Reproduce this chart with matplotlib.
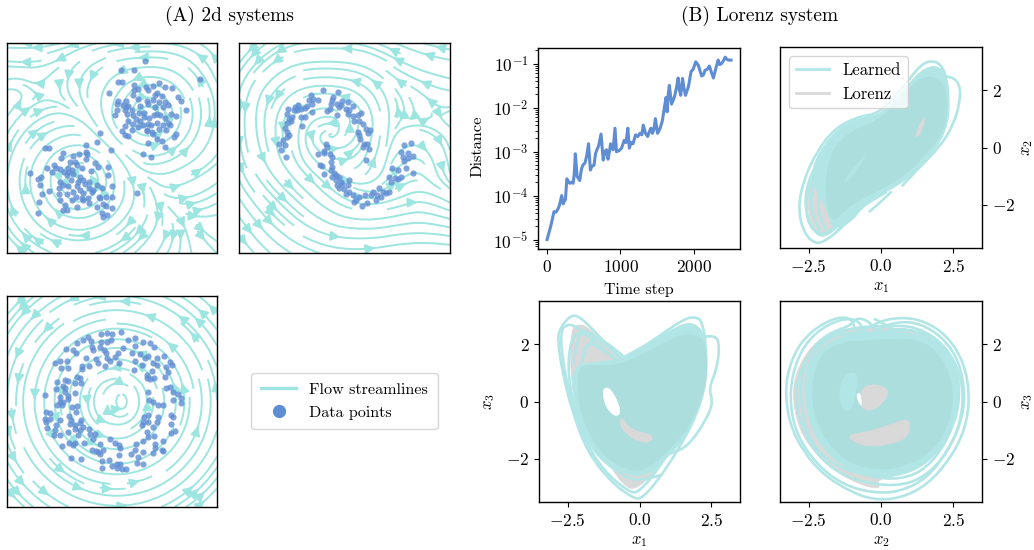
import numpy as np
import matplotlib
matplotlib.use("Agg")
import matplotlib.pyplot as plt
from matplotlib.lines import Line2D
from matplotlib.path import Path
from matplotlib.patches import PathPatch

plt.rcParams["font.family"] = ["cmr10", "DejaVu Serif"]
plt.rcParams["mathtext.fontset"] = "cm"
plt.rcParams["axes.formatter.use_mathtext"] = True
plt.rcParams["axes.unicode_minus"] = False
plt.rcParams["axes.linewidth"] = 1.0
plt.rcParams["font.size"] = 12

W, H = 1034, 550
STREAM = "#9de5e0"
BLUE = "#5f8dd3"
LEARNED = "#b2e6e6"
CORE = "#acdede"
GRAY = "#d9d9d9"

# flow direction on screen in degrees, read on an 11x11 grid, top row first
flow_two = [
    [180, 180, 190, 195, 195, 190, 185, 180, 170, 155, 135],
    [175, 180, 200, 225, 215, 200, 185, 180, 160, 135, 115],
    [200, 150, 240, 275, 250, 233, 210, 172, 139, 122, 113],
    [50, 35, 15, 320, 290, 258, 246, 152, 107, 99, 95],
    [60, 45, 25, 5, 310, 300, 308, 17, 62, 74, 79],
    [70, 56, 41, 14, 339, 313, 334, 7, 36, 53, 63],
    [80, 76, 67, 34, 315, 291, 305, 4, 24, 30, 40],
    [97, 100, 106, 134, 237, 256, 275, 300, 15, 25, 35],
    [112, 120, 135, 164, 203, 229, 241, 265, 320, 10, 25],
    [125, 135, 150, 170, 194, 214, 227, 240, 270, 300, 340],
    [135, 145, 158, 173, 190, 205, 217, 230, 245, 290, 315],
]
flow_moon = [
    [230, 220, 205, 190, 180, 180, 165, 155, 160, 165, 170],
    [235, 225, 210, 190, 180, 175, 160, 150, 155, 165, 170],
    [250, 235, 220, 195, 180, 170, 145, 125, 150, 160, 165],
    [265, 260, 240, 215, 180, 150, 120, 100, 100, 130, 190],
    [270, 275, 265, 255, 200, 70, 85, 90, 10, 340, 320],
    [280, 285, 280, 280, 330, 20, 70, 80, 20, 310, 285],
    [290, 300, 305, 310, 320, 350, 60, 70, 30, 285, 280],
    [300, 310, 315, 315, 315, 325, 350, 25, 25, 340, 325],
    [305, 310, 315, 320, 325, 340, 0, 10, 15, 345, 340],
    [305, 310, 320, 330, 340, 355, 0, 10, 5, 355, 350],
    [310, 315, 325, 335, 345, 355, 5, 10, 5, 0, 355],
]
flow_ring = [
    [226, 220, 213, 204, 194, 183, 171, 161, 151, 143, 136],
    [232, 226, 219, 209, 197, 183, 169, 156, 145, 137, 130],
    [240, 235, 227, 217, 202, 184, 166, 150, 137, 129, 122],
    [249, 245, 238, 228, 211, 186, 159, 139, 126, 118, 113],
    [259, 257, 253, 246, 230, 192, 143, 120, 110, 105, 102],
    [270, 270, 270, 270, 270, 270, 90, 90, 90, 90, 90],
    [281, 283, 287, 294, 309, 348, 38, 61, 70, 75, 78],
    [291, 295, 302, 312, 329, 354, 21, 41, 54, 62, 67],
    [300, 305, 313, 323, 338, 356, 14, 30, 43, 51, 58],
    [308, 314, 321, 331, 343, 357, 11, 24, 35, 43, 50],
    [314, 320, 327, 336, 346, 357, 9, 19, 29, 37, 44],
]

# data points, in picture units of each square panel
points_two = [(436,75),(362,102),(403,102),(600,130),(355,140),(365,140),(401,148),(327,172),(415,160),(437,155),(445,165),(458,152),(478,142),(497,155),(518,158),(403,165),(400,180),(465,180),(470,172),(487,182),(535,185),(545,198),(415,190),(440,198),(460,195),(477,200),(497,200),(505,210),(355,197),(378,198),(370,208),(385,212),(350,225),(345,240),(375,225),(382,235),(420,212),(445,205),(418,232),(433,232),(465,215),(490,215),(515,235),(528,242),(560,225),(400,240),(408,250),(420,258),(432,245),(447,248),(463,240),(480,240),(495,248),(505,262),(385,258),(375,272),(400,265),(430,270),(445,265),(470,262),(490,268),(510,270),(415,275),(440,285),(455,290),(478,280),(500,285),(528,295),(522,305),(365,288),(395,285),(440,288),(458,295),(375,298),(385,303),(470,312),(487,318),(445,323),(495,335),(428,356),(452,367),(350,205),(395,225),(378,215),(470,235),(452,270),
              (300,294),(292,320),(333,345),
              (257,328),(135,337),(146,340),(190,353),(218,362),(237,357),(257,352),(262,358),(182,370),(258,372),(210,382),(225,380),(232,390),(285,384),(160,390),(140,398),(168,398),(178,403),(205,398),(295,395),(325,395),(88,413),(155,410),(192,412),(215,405),(245,400),(272,407),(325,420),(122,427),(113,433),(200,420),(220,418),(240,425),(178,440),(212,435),(235,440),(250,435),(268,440),(125,477),(118,450),(190,450),(205,452),(232,452),(255,448),(175,458),(145,467),(220,470),(240,465),(268,460),(290,450),(335,452),(410,474),(175,478),(200,478),(228,485),(250,475),(275,470),(305,458),(297,487),(318,485),(335,485),(115,500),(180,495),(215,495),(245,490),(265,490),(280,465),(300,490),(195,510),(190,525),(200,525),(232,517),(268,505),(290,515),(310,508),(318,512),(337,520),(112,535),(305,535),(320,540),(310,545),(248,495),(205,410)]
points_moon = [(272,165),(316,170),(235,180),(242,190),(302,185),(300,195),(230,195),(258,195),(168,222),(187,215),(197,210),(205,220),(225,212),(238,205),(218,218),(195,225),(185,225),(240,230),(165,235),(178,245),(170,250),(165,262),(175,258),(205,245),(217,245),(208,272),(157,278),(163,290),(170,300),(165,305),(153,315),(140,325),(157,330),(147,345),(160,367),
               (295,205),(292,220),(285,228),(315,205),(325,210),(330,198),(345,200),(320,215),(340,220),(350,225),(362,212),(345,235),(360,242),(375,238),(385,232),(315,240),(365,258),(380,258),(390,265),(400,280),(412,283),(405,293),(375,290),(380,300),(383,310),
               (280,325),(285,335),(275,348),(257,358),(275,355),(293,358),(298,365),(262,390),(268,393),(275,418),(295,380),(300,395),(295,405),(305,415),(312,420),(320,425),(300,425),(310,435),(325,440),(350,435),(315,450),(330,448),(345,450),(320,460),(335,462),(350,470),(340,478),(360,480),(378,485),(370,495),(365,500),(388,513),(403,505),(398,480),(420,470),(440,458),(432,480),(430,495),(415,480),(450,470),(460,475),(470,470),(445,485),(475,440),(487,430),(470,425),(495,432),(505,425),(478,400),(495,405),(520,400),(540,413),
               (395,325),(403,325),(392,335),(410,343),(400,375),(515,330),(535,322),(505,350),(525,355),(540,362),(510,365),(525,370),(515,378)]
points_ring = [(363,127),(303,132),(320,128),(335,133),(265,142),(250,150),(230,158),(272,152),(303,155),(320,155),(333,150),(383,151),(405,143),(428,157),(450,160),(462,172),(405,168),(370,175),(275,172),(280,180),(300,172),(312,180),(318,188),(198,178),(220,180),(228,188),(355,188),(345,200),(395,190),(420,192),(445,197),(470,203),(492,197),(258,203),(165,218),(178,213),(200,212),(288,208),(293,220),(322,205),(330,212),(405,212),(435,205),(460,218),(510,215),(500,230),(518,225),(183,233),(203,235),(245,228),(268,228),(315,228),(358,218),(402,240),(425,225),(470,225),(245,238),(455,243),(440,255),(505,245),(195,270),(230,262),(240,265),(440,265),(450,268),(462,265),(497,260),(170,277),(205,272),(225,280),(242,280),(190,288),(168,298),(195,295),(225,308),(445,305),(500,295),(510,290),(135,315),(195,305),(205,318),(178,320),(178,335),(188,335),(205,328),(170,345),(185,343),(520,305),(535,313),(545,325),(545,338),(520,330),(448,330),(458,335),(475,345),(490,343),(215,350),(230,348),
               (137,365),(148,367),(135,385),(150,385),(137,395),(140,412),(168,405),(180,388),(207,378),(212,390),(228,365),(243,390),(210,400),(225,405),(240,398),(165,420),(162,435),(180,435),(205,425),(225,415),(240,420),(250,410),(268,415),(235,433),(270,432),(285,432),(445,375),(432,380),(475,380),(515,375),(520,380),(430,395),(445,395),(470,395),(515,400),(425,403),(440,425),(460,410),(513,428),(525,423),(443,440),(463,437),(490,452),(330,445),(278,447),(252,458),(208,458),(218,463),(225,457),(185,468),(300,460),(345,458),(358,463),(360,472),(407,460),(428,453),(465,460),(465,472),(275,480),(288,482),(295,485),(310,478),(405,478),(485,478),(488,483),(458,488),(428,485),(393,490),(300,492),(358,495),(212,503),(242,505),(305,512),(327,510),(413,500),(412,517),(430,522),(350,520),(360,520),(335,527),(305,533),(352,533),(378,535),(365,535)]

steps = [0,50,95,120,140,160,175,200,220,235,250,270,290,310,335,355,370,385,410,430,445,470,490,515,540,565,590,610,640,660,680,705,735,765,785,810,830,850,865,885,900,925,945,980,1015,1035,1050,1075,1100,1120,1145,1170,1205,1235,1265,1290,1310,1340,1370,1395,1415,1435,1455,1475,1505,1525,1540,1570,1595,1620,1635,1650,1665,1695,1720,1740,1765,1785,1800,1820,1845,1865,1885,1925,1960,1990,2025,2060,2105,2130,2150,2180,2210,2240,2265,2300,2330,2350,2375,2400,2425,2450,2470,2505]
distance = [1.0e-5,2.0e-5,4.3e-5,4.2e-5,4.7e-5,5.4e-5,6.6e-5,1e-4,6.5e-5,7.5e-5,8e-5,2.4e-4,2.1e-4,1.9e-4,2.0e-4,1.9e-4,3e-4,8.9e-4,2.7e-4,2.4e-4,2.2e-4,4.1e-4,5e-4,5.4e-4,8e-4,1.5e-3,3.8e-4,4.6e-4,4.9e-4,9e-4,1.1e-3,1.4e-3,2.5e-3,6.4e-4,1.0e-3,1.1e-3,6.7e-4,1.0e-3,1.5e-3,1.2e-3,1.1e-3,3.4e-3,9.9e-4,1.05e-3,1.2e-3,1.5e-3,1.8e-3,1.6e-3,3.4e-3,1.2e-3,1.6e-3,1.5e-3,2.4e-3,2.2e-3,2.6e-3,2.4e-3,4.0e-3,2.6e-3,2.2e-3,2.9e-3,3.4e-3,2.6e-3,3.2e-3,5.6e-3,2.6e-3,3.0e-3,3.4e-3,5.0e-3,9.5e-3,1.7e-2,8e-3,2.0e-2,3.2e-2,1.2e-2,1.5e-2,1.9e-2,3.0e-2,4.7e-2,2.6e-2,1.9e-2,4.6e-2,2.7e-2,1.9e-2,3.0e-2,6.5e-2,7.5e-2,1.1e-1,9.1e-2,5.2e-2,5.6e-2,7e-2,7.4e-2,8.8e-2,6.2e-2,4.7e-2,8.0e-2,1.2e-1,9.5e-2,1e-1,1.15e-1,1.4e-1,1.25e-1,1.2e-1,1.2e-1]

# x1-x2 view
gray12 = [(-2.06,-3.09),(-2.52,-2.57),(-2.52,-1.41),(-1.94,-0.02),(-1.02,0.84),(-0.09,1.08),(0.83,1.94),(1.64,2.70),(2.11,2.52),(2.11,1.13),(1.30,-0.14),(0.25,-1.06),(-0.90,-1.99),(-1.60,-2.80)]
mid12 = [(-1.77,-2.22),(-2.12,-1.53),(-2.35,-0.95),(-2.06,-0.14),(-1.37,0.67),(-0.67,0.96),(0.08,1.08),(0.95,2.06),(1.53,2.70),(2.11,2.75),(2.28,1.83),(2.22,0.56),(1.41,-0.54),(0.60,-1.24),(-0.44,-1.76),(-1.13,-2.34),(-1.60,-2.80)]
core12 = [(-1.83,-2.11),(-1.89,-1.18),(-1.69,-0.14),(-1.02,0.56),(-0.09,0.88),(0.72,1.71),(1.41,2.47),(2.11,2.35),(2.28,1.60),(2.16,0.56),(1.30,-0.49),(0.37,-1.24),(-0.50,-1.64),(-1.25,-2.11),(-1.66,-2.57)]
light12 = [(-1.37,-1.30),(-0.68,-0.37),(-0.50,-0.25),(-1.02,-1.07)]
sliver12 = [(1.18,0.44),(1.53,1.19),(1.47,0.67),(1.24,0.32)]
loops12 = [
    [(-2.29,-3.38),(-2.70,-2.92),(-2.87,-2.11),(-2.70,-1.18),(-2.23,-0.14),(-1.60,0.67),(-0.79,1.08),(-0.03,1.19),(0.83,2.18),(1.41,2.93),(1.88,3.04),(2.22,2.70),(2.36,1.71),(2.28,0.67),(1.53,-0.43),(0.72,-1.18),(-0.32,-1.76),(-1.13,-2.57),(-1.83,-3.21)],
    [(-2.23,-3.03),(-2.58,-2.45),(-2.64,-1.53),(-2.23,-0.49),(-1.48,0.50),(-0.67,0.96),(0.14,1.13),(1.06,2.29),(1.53,2.75),(1.99,2.81),(2.19,2.41),(2.28,1.13),(1.99,0.21),(1.18,-0.72),(0.14,-1.41),(-0.79,-1.99),(-1.48,-2.74),(-1.94,-3.09)],
    [(-2.41,-2.92),(-2.64,-2.11),(-2.41,-1.06),(-1.83,-0.02),(-0.90,0.73),(0.02,1.02),(0.95,2.00),(1.64,2.64),(2.05,2.58),(2.22,1.60),(1.88,0.21),(0.83,-0.95),(-0.44,-1.64),(-1.25,-2.34),(-1.83,-3.03)],
    [(2.11,2.47),(2.45,2.49),(2.74,2.18),(2.74,1.60),(2.51,0.79),(2.05,0.03),(1.30,-0.72),(0.72,-1.35)],
    [(-0.42,-2.25),(0.02,-1.88),(0.37,-1.53)],
    [(-1.37,-2.74),(-0.90,-2.45),(-0.73,-2.05),(-0.21,-1.76)],
    [(-2.12,-2.9),(-2.42,-2.35),(-2.42,-1.5),(-2.1,-0.5),(-1.35,0.6)],
    [(-1.9,-2.85),(-2.2,-2.35),(-2.15,-1.55),(-1.8,-0.6)],
    [(-1.55,-2.95),(-1.25,-2.55),(-0.7,-2.05),(0.2,-1.55)],
]

# x1-x3 view
gray13 = [(-2.40,2.53),(-2.11,2.71),(-1.70,2.53),(-1.12,1.84),(-0.31,1.15),(0.61,1.72),(1.89,2.53),(2.23,1.38),(2.00,-0.01),(0.84,-2.09),(-0.08,-3.08),(-0.54,-2.96),(-1.12,-2.09),(-1.93,-1.05),(-2.40,0.57)]
mid13 = [(-2.28,0.45),(-2.22,1.15),(-1.70,1.27),(-0.66,1.38),(-0.20,1.55),(0.73,2.13),(1.66,2.59),(2.12,2.54),(2.29,1.61),(2.23,0.34),(1.66,-1.06),(0.84,-1.98),(0.21,-2.50),(-0.37,-2.50),(-1.24,-1.98),(-1.88,-1.05)]
core13 = [(-2.11,0.57),(-2.05,1.26),(-1.47,1.20),(-0.66,1.26),(-0.20,1.44),(0.61,1.84),(1.54,2.36),(2.23,2.19),(2.35,1.38),(2.23,0.34),(1.66,-0.94),(0.96,-1.69),(0.27,-2.33),(-0.31,-2.38),(-1.12,-1.98),(-1.70,-1.17),(-2.05,-0.24)]
crescent13 = [(-0.66,-0.47),(-0.31,-1.00),(0.50,-1.17),(0.38,-1.46),(-0.20,-1.34),(-0.66,-0.94)]
hole13 = [(-1.30,0.48),(-0.98,0.46),(-0.62,-0.36),(-0.85,-0.55),(-1.2,-0.15)]
loops13 = [
    [(0.03,0.80),(-0.43,1.32),(-1.12,1.96),(-1.70,2.59),(-2.11,2.97),(-2.40,3.00),(-2.75,2.59),(-2.86,2.19),(-2.69,1.03),(-2.34,-0.36),(-1.82,-1.75),(-1.01,-2.79),(-0.20,-3.39),(0.09,-3.37),(0.61,-2.79),(1.31,-1.75),(2.00,-0.47),(2.29,0.80),(2.33,1.96),(2.18,2.77),(2.00,2.94),(1.60,2.91),(0.73,2.31),(-0.31,1.61),(-0.78,1.15)],
    [(-0.20,0.91),(-1.01,1.61),(-1.70,2.19),(-2.28,2.67),(-2.57,2.67),(-2.75,2.42),(-2.69,1.49),(-2.40,0.10),(-1.94,-1.28),(-1.24,-2.44),(-0.31,-3.19),(-0.02,-3.14),(0.50,-2.56),(1.19,-1.52),(1.89,-0.36),(2.18,0.80),(2.12,2.42),(1.89,2.71),(1.42,2.65),(0.50,2.07),(-0.43,1.49)],
    [(2.23,2.25),(2.64,2.33),(2.79,1.96),(2.70,1.15),(2.41,0.45),(2.56,-0.01),(2.35,-0.59),(1.77,-1.46),(1.31,-1.75),(0.84,-1.86),(0.27,-2.79)],
    [(-0.54,1.38),(-1.01,1.84),(-1.47,2.25),(-2.05,2.42),(-2.40,2.19),(-2.51,0.91),(-2.16,-0.59),(-1.59,-1.75),(-0.89,-2.38),(-0.08,-2.85),(0.73,-2.56)],
    [(-2.11,1.03),(-1.82,2.19),(-1.24,2.19),(-0.54,1.55)],
    [(-1.93,-0.94),(-1.36,-1.86),(-0.54,-2.44),(0.27,-2.56),(1.08,-1.75)],
    [(-0.54,1.55),(0.61,2.19),(1.66,2.59),(2.12,2.59),(2.06,1.38)],
    [(-2.3,1.3),(-2.15,2.35),(-1.85,2.55),(-1.2,1.95)],
    [(-2.45,0.5),(-2.2,-0.8),(-1.6,-2.0)],
    [(-2.0,1.3),(-1.95,2.0),(-1.5,2.0),(-0.8,1.45)],
]

# x2-x3 view
gray23 = [(-1.18,2.59),(-2.22,2.19),(-2.92,1.15),(-3.09,0.10),(-2.74,-1.28),(-1.76,-2.33),(-0.72,-2.91),(0.03,-3.06),(-0.20,-2.73),(0.90,-2.44),(2.06,-1.63),(2.58,-0.24),(2.41,1.26),(1.60,2.42),(0.44,2.59)]
mid23 = [(-1.18,2.25),(-2.11,1.79),(-2.51,0.80),(-2.51,-0.36),(-2.11,-1.40),(-1.30,-2.21),(-0.25,-2.61),(1.02,-2.44),(1.94,-1.75),(2.52,-0.59),(2.64,0.68),(2.12,1.84),(1.25,2.30),(0.21,2.30),(-0.60,2.30)]
core23 = [(-1.18,2.07),(-1.99,1.72),(-2.34,0.80),(-2.34,-0.24),(-1.99,-1.17),(-1.30,-1.98),(-0.25,-2.38),(0.90,-2.21),(1.83,-1.63),(2.41,-0.59),(2.47,0.68),(1.94,1.72),(1.25,2.13),(0.21,2.13),(-0.60,2.07)]
crescent23 = [(-1.18,-1.17),(-0.37,-1.05),(0.56,-0.71),(1.02,-0.59),(0.96,-1.28),(0.21,-1.52),(-0.49,-1.57),(-0.95,-1.40)]
patch23 = [(-0.72,0.45),(-0.25,0.63),(0.38,0.39),(-0.14,-0.30),(-0.72,-0.30)]
hole23 = [(-0.86,0.22),(-0.72,0.34),(-0.66,-0.19),(-0.78,-0.01)]
light23 = [(-1.47,0.34),(-1.24,0.97),(-0.78,1.03),(-0.89,0.22),(-1.06,-0.42),(-1.35,-0.24)]
loops23 = [
    [(-1.06,3.02),(-1.99,2.77),(-2.80,2.07),(-3.21,1.15),(-3.32,0.22),(-3.15,-0.82),(-2.69,-1.75),(-1.99,-2.56),(-1.06,-3.14),(-0.25,-3.43),(0.67,-3.37),(1.60,-2.91),(2.41,-1.98),(2.93,-0.94),(3.08,0.22),(2.87,1.38),(2.29,2.30),(1.48,2.82),(0.67,2.94),(-0.14,2.77),(-0.83,2.30)],
    [(-0.83,2.97),(-1.88,2.71),(-2.69,1.96),(-3.09,0.91),(-3.15,-0.13),(-2.92,-1.17),(-2.22,-2.21),(-1.30,-2.91),(-0.25,-3.19),(0.67,-3.14),(1.60,-2.67),(2.29,-1.75),(2.75,-0.82),(2.93,0.22),(2.70,1.44),(2.12,2.25),(1.37,2.71),(0.67,2.79),(-0.02,2.59),(-0.49,2.19)],
    [(-0.83,2.94),(-0.37,2.77),(-0.14,2.36),(0.44,2.53),(1.25,2.48),(2.06,1.96),(2.58,1.03),(2.64,-0.24),(2.18,-1.40),(1.37,-2.21),(0.44,-2.56),(-0.72,-2.56),(-1.76,-2.15),(-2.45,-1.40),(-2.74,-0.36),(-2.80,0.68),(-2.51,1.67),(-1.88,2.36),(-1.06,2.63)],
    [(-1.18,2.42),(-1.99,2.13),(-2.57,1.26),(-2.63,-0.01),(-2.28,-1.17),(-1.53,-2.09),(-0.49,-2.61),(0.67,-2.73),(1.60,-2.33),(2.35,-1.28),(2.75,-0.01),(2.64,1.15),(1.94,2.19),(1.02,2.53),(0.21,2.36)],
    [(-0.25,2.88),(0.32,2.65),(0.73,2.19)],
    [(-1.3,2.55),(-2.3,1.95),(-2.9,0.9),(-2.95,-0.3),(-2.45,-1.55),(-1.6,-2.45),(-0.5,-2.85),(0.75,-2.95),(1.7,-2.5),(2.45,-1.55),(2.85,-0.35),(2.8,0.9),(2.2,2.0),(1.25,2.6),(0.3,2.65)],
]

ticks_b = [-2.5, 0.0, 2.5]
ticklabels_x = ["$-2.5$", "$0.0$", "$2.5$"]
ticks_y = [-2, 0, 2]
ticklabels_y = ["$-2$", "$0$", "$2$"]


def make_axes(fig, left, top, right, bottom):
    return fig.add_axes([left / W, 1 - bottom / H, (right - left) / W, (bottom - top) / H])


def flow_panel(ax, angles, points, ylim):
    angles = np.radians(np.array(angles, dtype=float))
    gx = np.linspace(20, 652, 11)
    gy = np.linspace(ylim[1], ylim[0], 11)
    # the y axis runs downward so the screen angle flips sign
    ax.streamplot(gx, gy, np.cos(angles), -np.sin(angles), density=0.8, color=STREAM,
                  linewidth=1.4, arrowsize=1.4, arrowstyle="-|>")
    pts = np.array(points)
    ax.scatter(pts[:, 0], pts[:, 1], s=20, color=BLUE, alpha=0.8, linewidths=0, zorder=5)
    ax.set_xlim(20, 652)
    ax.set_ylim(*ylim)
    ax.set_xticks([])
    ax.set_yticks([])


def curve_path(points, closed):
    # quadratic curve that uses the read points as control points
    p = np.array(points, dtype=float)
    verts, codes = [], []
    if closed:
        verts.append((p[-1] + p[0]) / 2)
        codes.append(Path.MOVETO)
        for i in range(len(p)):
            verts += [p[i], (p[i] + p[(i + 1) % len(p)]) / 2]
            codes += [Path.CURVE3, Path.CURVE3]
    else:
        verts.append(p[0])
        codes.append(Path.MOVETO)
        for i in range(1, len(p) - 1):
            end = p[i + 1] if i == len(p) - 2 else (p[i] + p[i + 1]) / 2
            verts += [p[i], end]
            codes += [Path.CURVE3, Path.CURVE3]
    return Path(verts, codes)


def blob(ax, outline, color, z, edge=0.5):
    ax.add_patch(PathPatch(curve_path(outline, True), fc=color, ec=color, lw=edge, zorder=z))


def lorenz_panel(ax, gray, mid, core, loops, xlabel, ylabel, right=False):
    blob(ax, gray, GRAY, 1)
    for loop in loops:
        closed = len(loop) > 12
        ax.add_patch(PathPatch(curve_path(loop, closed), fc="none", ec=LEARNED, lw=1.9, zorder=2))
    blob(ax, mid, LEARNED, 3, edge=4)
    blob(ax, core, CORE, 3.5, edge=2)
    ax.set_xlim(-3.5, 3.5)
    ax.set_ylim(-3.5, 3.5)
    ax.set_xticks(ticks_b)
    ax.set_xticklabels(ticklabels_x, fontsize=12.5)
    ax.set_yticks(ticks_y)
    ax.set_yticklabels(ticklabels_y, fontsize=12.5)
    ax.set_xlabel(xlabel, fontsize=12)
    ax.xaxis.set_label_coords(0.5, -0.16)
    if right:
        ax.yaxis.tick_right()
        ax.yaxis.set_label_position("right")
        ax.set_ylabel(ylabel, fontsize=12)
        ax.yaxis.set_label_coords(1.185, 0.5)
    else:
        ax.set_ylabel(ylabel, fontsize=12)
        ax.yaxis.set_label_coords(-0.21, 0.5)


fig = plt.figure(figsize=(W / 100, H / 100), dpi=100)

ax1 = make_axes(fig, 7, 43, 217, 253)
flow_panel(ax1, flow_two, points_two, (655, 22))
ax2 = make_axes(fig, 239, 43, 450, 253)
flow_panel(ax2, flow_moon, points_moon, (655, 22))
ax3 = make_axes(fig, 7, 296, 217, 507)
flow_panel(ax3, flow_ring, points_ring, (650, 18))

handles = [Line2D([], [], color=STREAM, lw=2.4),
           Line2D([], [], color=BLUE, marker="o", ms=8.5, lw=0)]
fig.legend(handles, ["Flow streamlines", "Data points"], loc="center",
           bbox_to_anchor=(344.5 / W, 1 - 401 / H), fontsize=11.6, borderpad=0.6,
           labelspacing=0.55, handlelength=2.2)

ax4 = make_axes(fig, 538, 48, 740, 249)
ax4.plot(steps, distance, color=BLUE, lw=2.2)
ax4.set_yscale("log")
ax4.set_xlim(-123, 2627)
ax4.set_ylim(6.1e-6, 0.226)
ax4.set_xticks([0, 1000, 2000])
ax4.set_yticks([1e-5, 1e-4, 1e-3, 1e-2, 1e-1])
ax4.tick_params(labelsize=12.5)
ax4.set_xlabel("Time step", fontsize=11.4)
ax4.xaxis.set_label_coords(0.5, -0.17)
ax4.set_ylabel("Distance", fontsize=11.8)
ax4.yaxis.set_label_coords(-0.267, 0.51)

ax5 = make_axes(fig, 780, 47, 982, 248)
lorenz_panel(ax5, gray12, mid12, core12, loops12, "$x_1$", "$x_2$", right=True)
blob(ax5, light12, LEARNED, 4)
blob(ax5, sliver12, GRAY, 4)
legend_handles = [Line2D([], [], color=LEARNED, lw=2), Line2D([], [], color=GRAY, lw=2)]
ax5.legend(legend_handles, ["Learned", "Lorenz"], loc="upper left", fontsize=12,
           borderaxespad=0.55).set_zorder(10)

ax6 = make_axes(fig, 539, 301, 740, 502)
lorenz_panel(ax6, gray13, mid13, core13, loops13, "$x_1$", "$x_3$")
blob(ax6, crescent13, GRAY, 4)
blob(ax6, hole13, "white", 4)

ax7 = make_axes(fig, 780, 301, 982, 502)
lorenz_panel(ax7, gray23, mid23, core23, loops23, "$x_2$", "$x_3$", right=True)
blob(ax7, crescent23, GRAY, 4)
blob(ax7, patch23, GRAY, 4)
blob(ax7, hole23, "white", 5)
blob(ax7, light23, LEARNED, 4)

fig.text(229 / W, 1 - 16 / H, "(A) 2d systems", ha="center", va="center", fontsize=14)
fig.text(760 / W, 1 - 16 / H, "(B) Lorenz system", ha="center", va="center", fontsize=14)

fig.savefig("out.png", dpi=100)
